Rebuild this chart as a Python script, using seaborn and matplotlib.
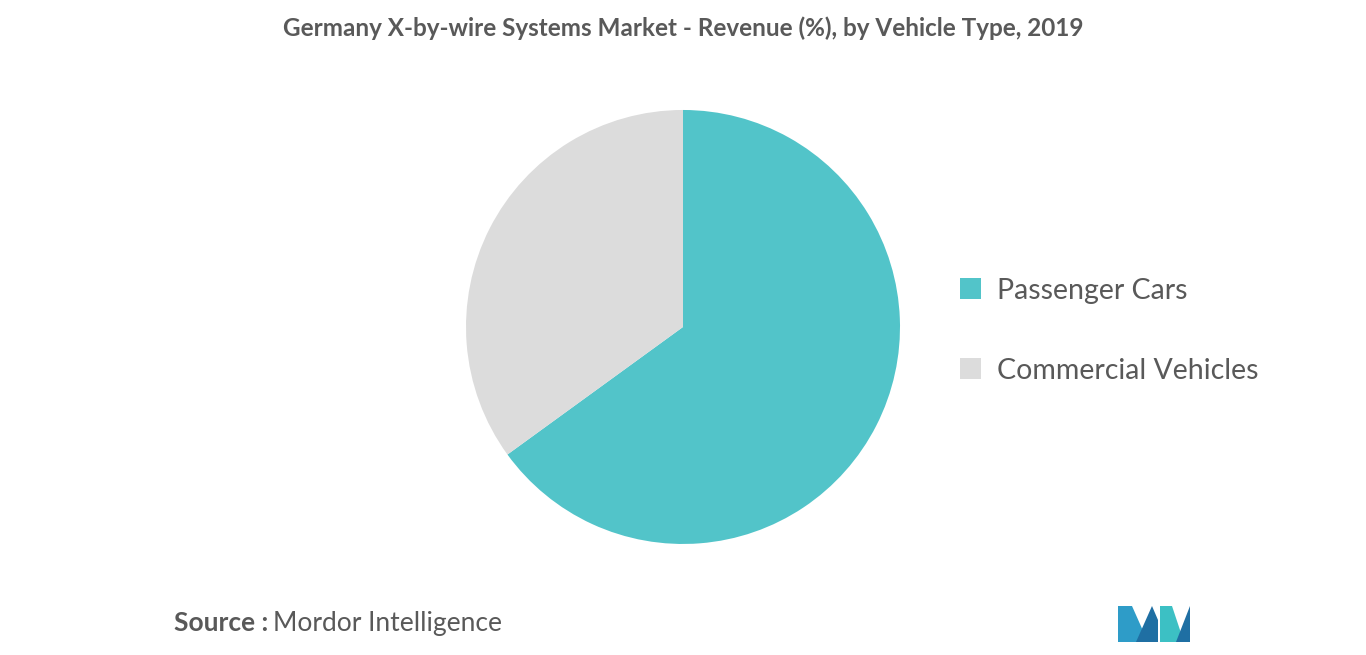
import matplotlib
matplotlib.use("Agg")
import matplotlib.pyplot as plt
from matplotlib.patches import Polygon
import seaborn as sns

categories = ["Passenger Cars", "Commercial Vehicles"]
shares = [65, 35]
colors = ["#52C4C9", "#DCDCDC"]

sns.set_theme(style="white")
plt.rcParams['font.family'] = 'Lato'

fig = plt.figure(figsize=(13.66, 6.55), dpi=100)
ax = fig.add_axes([0.5 - 217 / 1366, 0.5008 - 217 / 655, 434 / 1366, 434 / 655])
wedges, _ = ax.pie(shares, colors=colors, startangle=90, counterclock=False,
                   wedgeprops=dict(linewidth=0))
ax.set_xlim(-1, 1)
ax.set_ylim(-1, 1)
ax.set_aspect('equal')

fig.text(0.5, 1 - 28 / 655, "Germany X-by-wire Systems Market - Revenue (%), by Vehicle Type, 2019",
         ha='center', va='center', fontsize=17.5, fontweight='bold', color='#595959')

leg = fig.legend(wedges, categories, loc='center left', bbox_to_anchor=(0.684, 0.495),
                 frameon=False, fontsize=20.5, handlelength=0.75, handleheight=0.75,
                 labelspacing=1.9, handletextpad=0.55, labelcolor='#595959')

fig.text(174 / 1366, 1 - 623 / 655, "Source :", ha='left', va='center', fontsize=19,
         fontweight='bold', color='#595959')
fig.text(273 / 1366, 1 - 623 / 655, "Mordor Intelligence", ha='left', va='center',
         fontsize=19, color='#595959')

# logo
lax = fig.add_axes([1118 / 1366, 1 - 642 / 655, 72 / 1366, 36 / 655])
lax.set_xlim(0, 72); lax.set_ylim(0, 36); lax.axis('off')
for pts, c in [([(0, 0), (0, 36), (14, 36), (30, 0)], "#2E9CC8"),
               ([(18, 0), (34, 36), (40, 22), (40, 0)], "#1F6FA3"),
               ([(42, 0), (42, 36), (54, 36), (66, 0)], "#3CC0C4"),
               ([(58, 0), (72, 36), (72, 0)], "#1F6FA3")]:
    lax.add_patch(Polygon(pts, closed=True, color=c, lw=0))

fig.savefig("out.png", dpi=100)
